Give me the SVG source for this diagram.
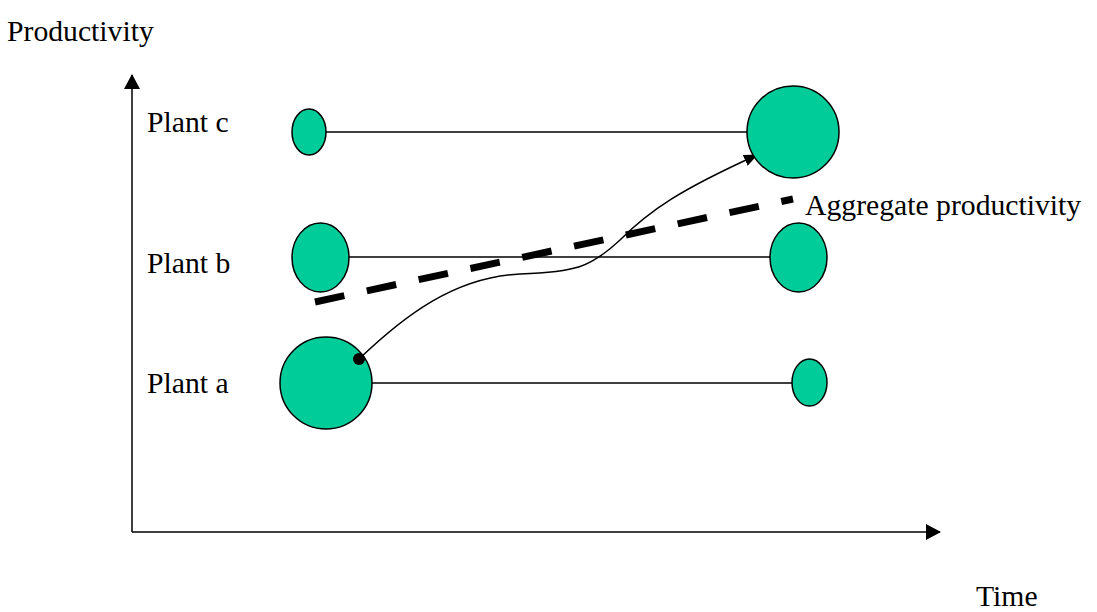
<svg xmlns="http://www.w3.org/2000/svg" width="1097" height="612" viewBox="0 0 1097 612">
<style>
text{font-family:"Liberation Serif","Times New Roman",serif;font-size:29.7px;fill:#000}
.node{fill:#00CC99;stroke:#000;stroke-width:1.5}
.thin{fill:none;stroke:#000;stroke-width:1.5}
.axis{fill:none;stroke:#000;stroke-width:1.5}
.agg{fill:none;stroke:#000;stroke-width:7;stroke-dasharray:30 23}
</style>
<defs>
<marker id="axArrow" markerWidth="15" markerHeight="16" refX="14" refY="8" orient="auto" markerUnits="userSpaceOnUse">
<path d="M0,0 L15,8 L0,16 Z" fill="#000"/>
</marker>
<marker id="curveArrow" markerWidth="14" markerHeight="12" refX="13" refY="6" orient="auto" markerUnits="userSpaceOnUse">
<path d="M0,0 L14,6 L0,12 Z" fill="#000"/>
</marker>
</defs>
<g id="labels">
<text x="7" y="41">Productivity</text>
<text x="147" y="132">Plant c</text>
<text x="147" y="273">Plant b</text>
<text x="147" y="393">Plant a</text>
<text x="805" y="215">Aggregate productivity</text>
<text x="976" y="606">Time</text>
</g>
<g id="connectors">
<line class="axis" x1="132" y1="532" x2="132" y2="75" marker-end="url(#axArrow)"/>
<line class="axis" x1="132" y1="532" x2="940" y2="532" marker-end="url(#axArrow)"/>
<line class="thin" x1="326" y1="132" x2="747" y2="132"/>
<line class="thin" x1="349" y1="257" x2="770" y2="257"/>
<line class="thin" x1="372" y1="383" x2="792" y2="383"/>
<line class="agg" x1="315" y1="302" x2="793" y2="199"/>
<path class="thin" d="M359,359 C405,315 455,277 520,274 C575,272 590,268 620,240 C650,210 680,190 757,155" marker-end="url(#curveArrow)"/>
</g>
<g id="plant-c-start"><ellipse class="node" cx="309" cy="132" rx="17" ry="23"/></g>
<g id="plant-c-end"><circle class="node" cx="793" cy="132" r="46"/></g>
<g id="plant-b-start"><ellipse class="node" cx="320.5" cy="257.5" rx="28.5" ry="34.5"/></g>
<g id="plant-b-end"><ellipse class="node" cx="798.5" cy="257.5" rx="28.5" ry="34.5"/></g>
<g id="plant-a-start"><circle class="node" cx="326" cy="383" r="46"/></g>
<g id="plant-a-end"><ellipse class="node" cx="809.5" cy="382.5" rx="17.5" ry="23.5"/></g>
<g id="curve-start"><circle cx="359" cy="359" r="6" fill="#000"/></g>
</svg>
